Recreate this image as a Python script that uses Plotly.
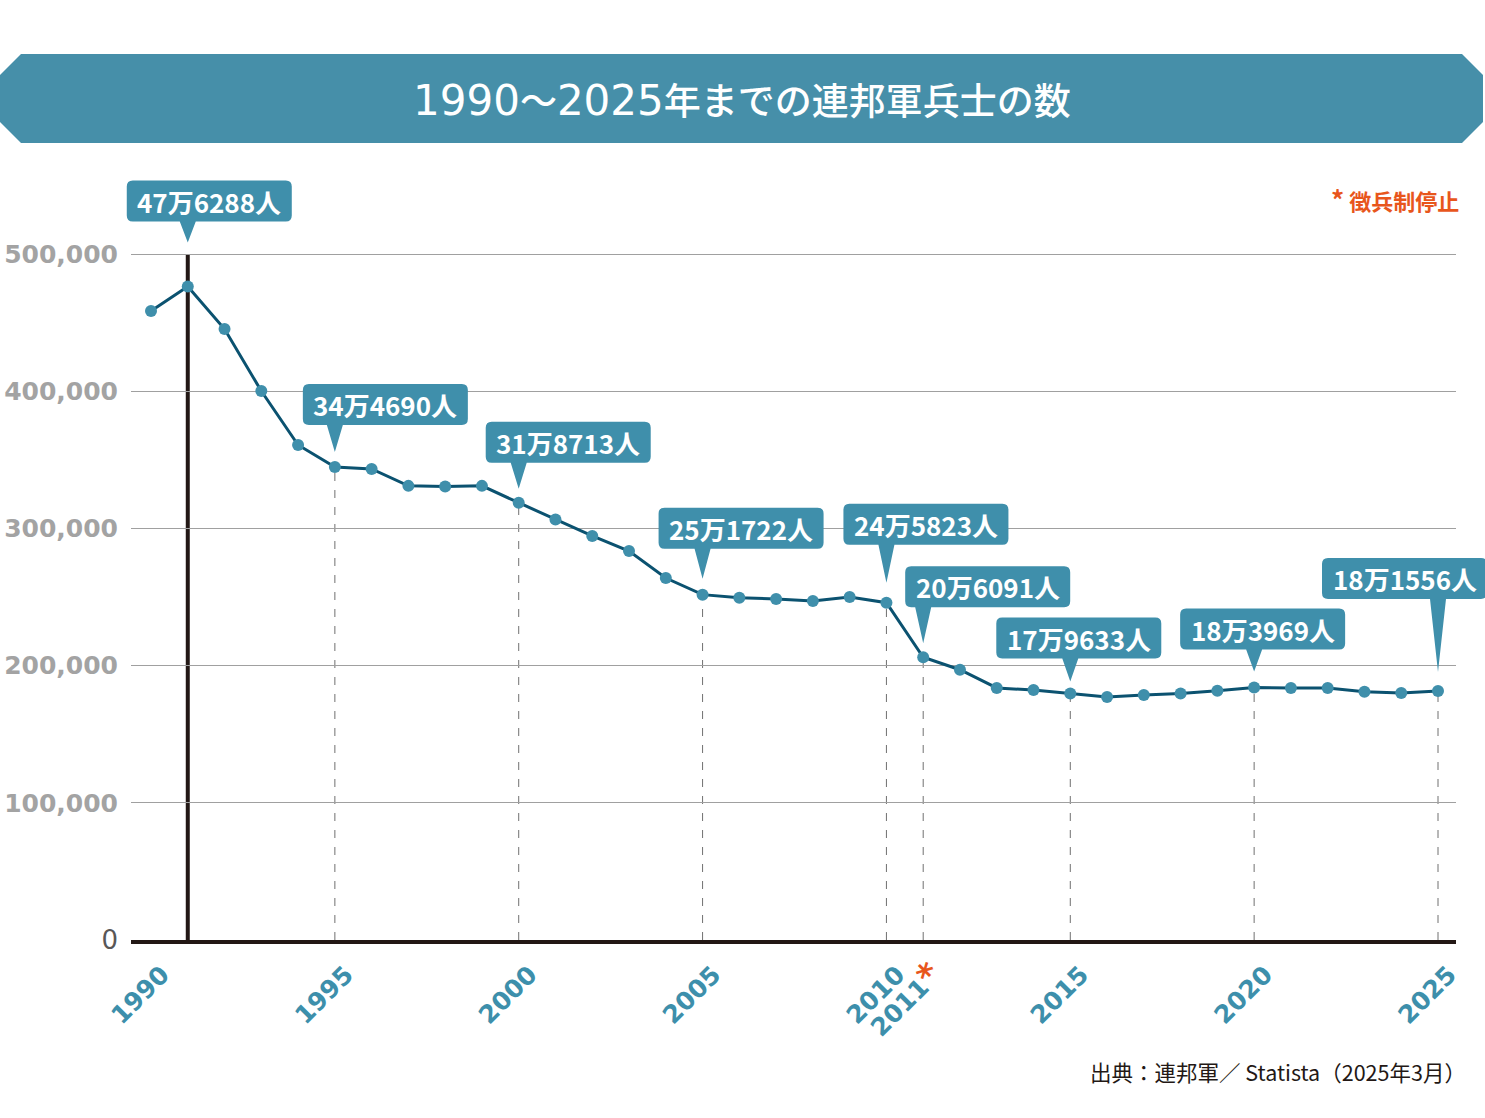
import plotly.graph_objects as go

# ---------------- data ----------------
years = list(range(1990, 2026))
soldiers = [458500, 476288, 445300, 400100, 360800, 344690, 343300, 331000, 330500, 331000,
            318713, 306500, 294500, 283500, 263800, 251722, 249500, 248500, 247100, 250000,
            245823, 206091, 197000, 183700, 182200, 179633, 177100, 178600, 179600, 181700,
            183969, 183700, 183700, 181000, 180000, 181556]

x_tick_vals = [1990, 1995, 2000, 2005, 2010, 2011, 2015, 2020, 2025]
x_tick_text = ["1990", "1995", "2000", "2005", "2010",
               "2011<span style='color:#e8561c;font-size:34px'>*</span>",
               "2015", "2020", "2025"]
y_tick_vals = [0, 100000, 200000, 300000, 400000, 500000]
y_tick_text = ["<span style='color:#595757;font-weight:normal;font-size:26px'>0</span>",
               "100,000", "200,000", "300,000", "400,000", "500,000"]

callout_years = [1991, 1995, 2000, 2005, 2010, 2011, 2015, 2020, 2025]
dashed_years = [1995, 2000, 2005, 2010, 2011, 2015, 2020, 2025]
marked_year = 1991

title_text = ("<span style='font-family:DejaVu Sans;font-size:42px'>1990</span>～"
              "<span style='font-family:DejaVu Sans;font-size:42px'>2025</span>年までの連邦軍兵士の数")
note_text = "<span style='font-size:26px'>*</span> 徴兵制停止"
source_text = "出典：連邦軍／ Statista（2025年3月）"

# ---------------- layout constants ----------------
W, H = 1485, 1118
L, R, T, B = 131, 29, 170, 178
PW, PH = W - L - R, H - T - B
PX_PER_YEAR = (1438 - 151) / 35.0
XR = [1990 - 20 / PX_PER_YEAR, 1990 - 20 / PX_PER_YEAR + PW / PX_PER_YEAR]
YR = [0, 500000 * PH / 686.0]

# callout layout: tip offset above point (px), box left relative to tip (px), gap tip->box bottom (px)
callout_layout = {
    1991: (44, -61, 21),
    1995: (15, -32, 27),
    2000: (14, -33, 26),
    2005: (16, -44, 30),
    2010: (20, -43, 38),
    2011: (14, -18, 36),
    2015: (12, -74, 23),
    2020: (16, -74, 22),
    2025: (19, -116, 73),
}
BOX_W, BOX_H, RAD, HW = 165, 41, 6, 8

TEAL = "#3f8fab"
BANNER = "#468fa9"
LINE = "#0b5270"
DARK = "#231815"


def xpx(x):
    return L + (x - XR[0]) / (XR[1] - XR[0]) * PW


def ypx(v):
    return T + PH - (v - YR[0]) / (YR[1] - YR[0]) * PH


def pp(px, py):
    return (px - L) / PW, (T + PH - py) / PH


def fmt(v):
    return f"{v // 10000}万{v % 10000}人"


val = dict(zip(years, soldiers))

fig = go.Figure()
fig.add_trace(go.Scatter(
    x=years, y=soldiers, mode="lines+markers",
    line=dict(color=LINE, width=3),
    marker=dict(color=TEAL, size=12, line=dict(width=0)),
    hoverinfo="skip", showlegend=False, cliponaxis=False,
))

shapes = []
# banner
bpts = [(21, 54), (1462, 54), (1483, 75), (1483, 122), (1462, 143), (21, 143), (0, 122), (0, 75)]
path = "M " + " L ".join(f"{pp(a, b)[0]:.5f},{pp(a, b)[1]:.5f}" for a, b in bpts) + " Z"
shapes.append(dict(type="path", xref="paper", yref="paper", path=path,
                   fillcolor=BANNER, line=dict(width=0), layer="above"))

# marked vertical line
shapes.append(dict(type="line", xref="x", yref="y", x0=marked_year, x1=marked_year,
                   y0=0, y1=500000, line=dict(color=DARK, width=4), layer="below"))
# dashed lines
for yy in dashed_years:
    shapes.append(dict(type="line", xref="x", yref="y", x0=yy, x1=yy, y0=0, y1=val[yy],
                       line=dict(color="#707070", width=1, dash="8px,9px"), layer="below"))

annotations = []
for yy in callout_years:
    tip_dy, box_dx, gap = callout_layout[yy]
    tx, ty = xpx(yy), ypx(val[yy]) - tip_dy
    bx0 = tx + box_dx
    bx1 = bx0 + BOX_W
    by1 = ty - gap          # box bottom (px)
    by0 = by1 - BOX_H       # box top (px)
    pts = [
        ("M", bx0 + RAD, by0), ("L", bx1 - RAD, by0), ("Q", bx1, by0, bx1, by0 + RAD),
        ("L", bx1, by1 - RAD), ("Q", bx1, by1, bx1 - RAD, by1),
        ("L", tx + HW, by1), ("L", tx, ty), ("L", tx - HW, by1),
        ("L", bx0 + RAD, by1), ("Q", bx0, by1, bx0, by1 - RAD),
        ("L", bx0, by0 + RAD), ("Q", bx0, by0, bx0 + RAD, by0),
    ]
    segs = []
    for p in pts:
        cmd = p[0]
        coords = p[1:]
        cs = []
        for i in range(0, len(coords), 2):
            a, b = pp(coords[i], coords[i + 1])
            cs.append(f"{a:.5f},{b:.5f}")
        segs.append(cmd + " " + " ".join(cs))
    shapes.append(dict(type="path", xref="paper", yref="paper", path=" ".join(segs) + " Z",
                       fillcolor=TEAL, line=dict(width=0), layer="above"))
    annotations.append(dict(
        x=yy, y=val[yy], xref="x", yref="y", showarrow=False,
        xshift=box_dx + BOX_W / 2, yshift=tip_dy + gap + BOX_H / 2,
        text=fmt(val[yy]), xanchor="center", yanchor="middle",
        font=dict(family="Noto Sans CJK JP", size=26, color="white", weight=700),
    ))

# title
tx_, ty_ = pp(741.5, 99)
annotations.append(dict(x=tx_, y=ty_, xref="paper", yref="paper", showarrow=False,
                        text=title_text, xanchor="center", yanchor="middle",
                        font=dict(family="Noto Sans CJK JP", size=37, color="white", weight=500)))
# note
nx, ny = pp(1461, 199)
annotations.append(dict(x=nx, y=ny, xref="paper", yref="paper", showarrow=False,
                        text=note_text, xanchor="right", yanchor="middle",
                        font=dict(family="Noto Sans CJK JP", size=22, color="#e8561c", weight=700)))
# source
sx, sy = pp(1468, 1071)
annotations.append(dict(x=sx, y=sy, xref="paper", yref="paper", showarrow=False,
                        text=source_text, xanchor="right", yanchor="middle",
                        font=dict(family="Noto Sans CJK JP", size=21.5, color=DARK)))

fig.update_layout(
    width=W, height=H, margin=dict(l=L, r=R, t=T, b=B, pad=0, autoexpand=False),
    paper_bgcolor="white", plot_bgcolor="white",
    shapes=shapes, annotations=annotations, showlegend=False,
    xaxis=dict(range=XR, tickvals=x_tick_vals, ticktext=x_tick_text, tickangle=-45,
               showgrid=False, zeroline=False, showline=True, linecolor=DARK, linewidth=4,
               ticks="", ticklabelshift=11, ticklabelstandoff=6, automargin=False,
               tickfont=dict(family="DejaVu Sans", size=25, color="#3d8fab", weight=700),
               fixedrange=True),
    yaxis=dict(range=YR, tickvals=y_tick_vals, ticktext=y_tick_text,
               showgrid=True, gridcolor="#a0a0a0", gridwidth=1, zeroline=False, showline=False,
               ticks="", ticklabelstandoff=12, automargin=False,
               tickfont=dict(family="DejaVu Sans", size=25, color="#a3a3a3", weight=700),
               fixedrange=True),
)

fig.write_html("out.html", config={"displayModeBar": False})
